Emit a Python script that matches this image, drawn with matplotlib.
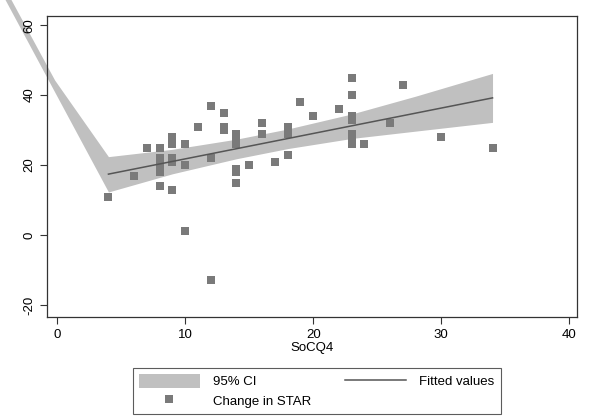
import matplotlib
matplotlib.use("Agg")
import matplotlib.pyplot as plt
from matplotlib.patches import Patch
from matplotlib.lines import Line2D

plt.rcParams['font.family'] = ['Liberation Sans', 'DejaVu Sans']
plt.rcParams['axes.unicode_minus'] = False

# scatter: SoCQ4 vs change in STAR
socq4 = [4, 6, 7, 8, 8, 8, 8, 8, 9, 9, 9, 9, 9, 10, 10, 10, 11, 12, 12, 12,
         13, 13, 13, 14, 14, 14, 14, 14, 14, 15, 16, 16, 17, 18, 18, 18, 18,
         19, 20, 22, 23, 23, 23, 23, 23, 23, 23, 24, 26, 27, 30, 34]
star = [11, 17, 25, 25, 22, 20, 18, 14, 28, 26, 22, 21, 13, 26, 20, 1, 31, 37, 22, -13,
        35, 31, 30, 29, 27, 26, 19, 18, 15, 20, 32, 29, 21, 31, 30, 29, 23,
        38, 34, 36, 45, 40, 34, 33, 29, 28, 26, 26, 32, 43, 28, 25]

# fitted line and 95% CI band (band runs off the plot at the top left)
fit_x = [4, 34]
fit_y = [17.4, 39.2]
ci_x = [-4.6, -0.2, 4, 9, 14, 18, 23, 28, 34]
ci_hi = [74.0, 44.3, 22.4, 24.5, 27.4, 30.3, 34.6, 39.7, 46.2]
ci_lo = [70.9, 40.9, 12.3, 17.5, 21.8, 24.7, 27.6, 29.7, 32.2]

band_col = '#c0c0c0'
mark_col = '#7a7a7a'
line_col = '#555555'

fig = plt.figure(figsize=(5.9, 4.2), dpi=100)
ax = fig.add_axes([0.0805, 0.2457, 0.8975, 0.7169])

ax.fill_between(ci_x, ci_lo, ci_hi, color=band_col, linewidth=0, clip_on=False)
ax.plot(socq4, star, 's', color=mark_col, markersize=5.2, markeredgewidth=0)
ax.plot(fit_x, fit_y, color=line_col, linewidth=1.1)

ax.set_xlim(-0.76, 40.6)
ax.set_ylim(-23.4, 62.7)
ax.set_xticks([0, 10, 20, 30, 40])
ax.set_yticks([-20, 0, 20, 40, 60])
ax.set_xlabel('SoCQ4', fontsize=9.5, labelpad=1)
ax.tick_params(axis='both', labelsize=9.5, color='#333333', length=5, width=0.8)
for lab in ax.get_yticklabels():
    lab.set_rotation(90)
    lab.set_va('center')
for s in ax.spines.values():
    s.set_color('#333333')
    s.set_linewidth(0.9)

handles = [Patch(facecolor=band_col, edgecolor='none'),
           Line2D([], [], marker='s', linestyle='none', color=mark_col,
                  markersize=5.2, markeredgewidth=0),
           Line2D([], [], color=line_col, linewidth=1.1)]
labels = ['95% CI', 'Change in STAR', 'Fitted values']
leg = fig.legend(handles, labels, ncol=2, loc='upper center',
                 bbox_to_anchor=(0.537, 0.14), fontsize=9.5, frameon=True,
                 fancybox=False, handlelength=4.6, handleheight=1.3,
                 columnspacing=2.6, handletextpad=1.0, borderpad=0.45,
                 labelspacing=0.35)
leg.get_frame().set_edgecolor('#333333')
leg.get_frame().set_linewidth(0.8)

fig.savefig('out.png', dpi=100)
